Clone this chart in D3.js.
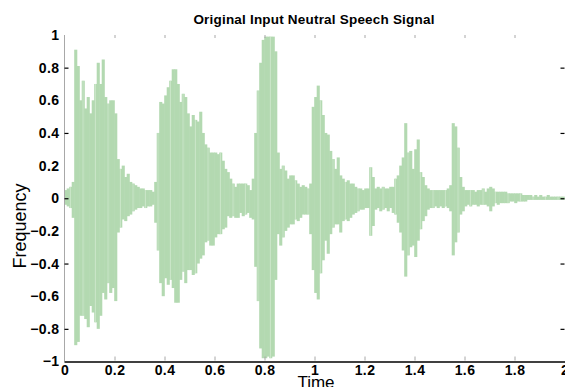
<!DOCTYPE html>
<html lang="en">
<head>
    <meta charset="UTF-8">
    <title>Original Input Neutral Speech Signal</title>
    <script src="https://d3js.org/d3.v7.min.js"></script>
    <style>
        body { margin: 0; background: #fff; }
        svg { display: block; }
        .tick-label text {
            font-family: 'Liberation Sans', Arial, sans-serif;
            font-size: 14px;
            font-weight: bold;
            letter-spacing: 0.4px;
            fill: #000;
        }
    </style>
</head>
<body>
    <svg id="chart" width="565" height="387"></svg>

    <script>
        // sampling step of the envelope (seconds)
        const dt = 0.01;

        // upper envelope of the waveform, one value per 10 ms column (0 .. 1.99 s)
        const upper = [
            0.05, 0.06, 0.07, 0.10, 0.91, 0.81, 0.60, 0.72, 0.55, 0.62,
            0.52, 0.60, 0.70, 0.83, 0.70, 0.85, 0.62, 0.58, 0.60, 0.60,
            0.52, 0.24, 0.18, 0.20, 0.13, 0.15, 0.10, 0.09, 0.08, 0.07,
            0.06, 0.06, 0.05, 0.05, 0.05, 0.04, 0.10, 0.40, 0.59, 0.58,
            0.63, 0.68, 0.72, 0.79, 0.79, 0.70, 0.59, 0.64, 0.62, 0.52,
            0.44, 0.51, 0.48, 0.47, 0.53, 0.40, 0.33, 0.31, 0.28, 0.28,
            0.28, 0.27, 0.28, 0.23, 0.18, 0.16, 0.12, 0.09, 0.07, 0.09,
            0.09, 0.09, 0.09, 0.08, 0.05, 0.12, 0.40, 0.66, 0.83, 0.97,
            0.99, 0.99, 0.99, 0.99, 0.90, 0.28, 0.18, 0.20, 0.17, 0.12,
            0.14, 0.14, 0.11, 0.09, 0.07, 0.08, 0.07, 0.06, 0.09, 0.56,
            0.62, 0.69, 0.60, 0.51, 0.40, 0.39, 0.29, 0.24, 0.18, 0.25,
            0.14, 0.12, 0.10, 0.11, 0.09, 0.09, 0.07, 0.06, 0.06, 0.05,
            0.06, 0.06, 0.19, 0.13, 0.06, 0.07, 0.06, 0.07, 0.06, 0.06,
            0.07, 0.07, 0.12, 0.14, 0.20, 0.25, 0.46, 0.28, 0.29, 0.18,
            0.30, 0.36, 0.16, 0.13, 0.08, 0.06, 0.05, 0.05, 0.05, 0.05,
            0.05, 0.05, 0.05, 0.06, 0.08, 0.46, 0.44, 0.31, 0.13, 0.07,
            0.05, 0.05, 0.05, 0.05, 0.04, 0.05, 0.05, 0.06, 0.04, 0.06,
            0.07, 0.06, 0.04, 0.04, 0.04, 0.04, 0.04, 0.03, 0.03, 0.03,
            0.03, 0.03, 0.03, 0.02, 0.02, 0.02, 0.02, 0.01, 0.02, 0.01,
            0.02, 0.01, 0.01, 0.02, 0.01, 0.01, 0.01, 0.01, 0.01, 0.01
        ];

        // lower envelope, same columns
        const lower = [
            -0.04, -0.05, -0.06, -0.12, -0.90, -0.88, -0.72, -0.72, -0.74, -0.79,
            -0.66, -0.70, -0.76, -0.80, -0.72, -0.58, -0.62, -0.52, -0.58, -0.55,
            -0.63, -0.21, -0.18, -0.13, -0.14, -0.11, -0.10, -0.08, -0.07, -0.06,
            -0.06, -0.05, -0.06, -0.05, -0.05, -0.04, -0.15, -0.32, -0.52, -0.60,
            -0.49, -0.53, -0.50, -0.55, -0.64, -0.64, -0.50, -0.45, -0.52, -0.44,
            -0.44, -0.47, -0.46, -0.40, -0.37, -0.35, -0.27, -0.26, -0.29, -0.29,
            -0.24, -0.22, -0.22, -0.19, -0.18, -0.11, -0.12, -0.11, -0.12, -0.12,
            -0.09, -0.11, -0.10, -0.09, -0.12, -0.13, -0.42, -0.63, -0.92, -0.98,
            -0.98, -0.97, -0.98, -0.97, -0.50, -0.22, -0.29, -0.24, -0.20, -0.18,
            -0.16, -0.16, -0.13, -0.14, -0.12, -0.10, -0.10, -0.10, -0.22, -0.44,
            -0.58, -0.62, -0.46, -0.38, -0.26, -0.34, -0.22, -0.18, -0.16, -0.16,
            -0.21, -0.14, -0.13, -0.14, -0.12, -0.10, -0.09, -0.08, -0.07, -0.07,
            -0.06, -0.06, -0.23, -0.17, -0.07, -0.06, -0.08, -0.07, -0.06, -0.08,
            -0.06, -0.09, -0.10, -0.15, -0.21, -0.32, -0.48, -0.35, -0.30, -0.29,
            -0.36, -0.26, -0.19, -0.14, -0.11, -0.07, -0.06, -0.06, -0.05, -0.06,
            -0.05, -0.06, -0.05, -0.06, -0.08, -0.35, -0.27, -0.21, -0.10, -0.08,
            -0.05, -0.04, -0.05, -0.04, -0.04, -0.05, -0.04, -0.04, -0.04, -0.05,
            -0.08, -0.05, -0.03, -0.04, -0.03, -0.03, -0.03, -0.03, -0.02, -0.02,
            -0.03, -0.02, -0.02, -0.02, -0.02, -0.01, -0.01, -0.01, -0.01, -0.01,
            -0.01, -0.01, -0.01, -0.01, -0.01, -0.01, -0.01, -0.01, -0.01, -0.01
        ];

        const xTickValues = [0, 0.2, 0.4, 0.6, 0.8, 1, 1.2, 1.4, 1.6, 1.8, 2];
        const yTickValues = [-1, -0.8, -0.6, -0.4, -0.2, 0, 0.2, 0.4, 0.6, 0.8, 1];
        const yMarkValues = [-0.8, -0.4, 0, 0.4, 0.8];

        const svg = d3.select("#chart");
        const x = d3.scaleLinear().domain([0, 2]).range([64.5, 564.5]);
        const y = d3.scaleLinear().domain([-1, 1]).range([361.5, 35]);

        const samples = upper.map((u, i) => ({ t: i * dt, hi: u, lo: lower[i] }));
        const colW = x(dt) - x(0);

        // waveform columns (slightly overlapped so no seams show)
        svg.append("g").selectAll("rect")
            .data(samples)
            .join("rect")
            .attr("x", d => x(d.t) - 0.3)
            .attr("width", colW + 0.6)
            .attr("y", d => y(d.hi))
            .attr("height", d => y(d.lo) - y(d.hi))
            .attr("fill", "#b3d9b1");

        // a few lighter stripes
        svg.append("g").selectAll("line")
            .data(samples.filter((d, i) => i % 5 === 2))
            .join("line")
            .attr("x1", d => x(d.t) + 1)
            .attr("x2", d => x(d.t) + 1)
            .attr("y1", d => y(d.hi))
            .attr("y2", d => y(d.lo))
            .attr("stroke", "#d3e9d1")
            .attr("stroke-width", 0.7);

        // left axis line (grey)
        svg.append("line")
            .attr("x1", x(0)).attr("x2", x(0))
            .attr("y1", y(1)).attr("y2", y(-1))
            .attr("stroke", "#a8a8a8").attr("stroke-width", 1);

        // top grey ticks
        svg.append("g")
            .attr("transform", `translate(0,${y(1)})`)
            .call(d3.axisBottom(x).tickValues(xTickValues.slice(1, -1)).tickSize(3).tickFormat(""))
            .call(g => g.select(".domain").remove())
            .call(g => g.selectAll("line").attr("stroke", "#a8a8a8"));

        // bottom grey ticks
        svg.append("g")
            .attr("transform", `translate(0,${y(-1) - 1})`)
            .call(d3.axisTop(x).tickValues(xTickValues.slice(1, -1)).tickSize(4).tickFormat(""))
            .call(g => g.select(".domain").remove())
            .call(g => g.selectAll("line").attr("stroke", "#a8a8a8"));

        // bottom axis line
        svg.append("line")
            .attr("x1", x(0)).attr("x2", 565)
            .attr("y1", y(-1) + 0.5).attr("y2", y(-1) + 0.5)
            .attr("stroke", "#000").attr("stroke-width", 1.6);

        // inner black ticks on left and right
        svg.append("g")
            .attr("transform", `translate(${x(0)},0)`)
            .call(d3.axisRight(y).tickValues(yMarkValues).tickSize(4).tickFormat(""))
            .call(g => g.select(".domain").remove())
            .call(g => g.selectAll("line").attr("stroke", "#000").attr("stroke-width", 1.2));

        svg.append("g")
            .attr("transform", `translate(${x(2)},0)`)
            .call(d3.axisLeft(y).tickValues(yMarkValues).tickSize(4).tickFormat(""))
            .call(g => g.select(".domain").remove())
            .call(g => g.selectAll("line").attr("stroke", "#000").attr("stroke-width", 1.2));

        // tick labels
        svg.append("g")
            .attr("class", "tick-label")
            .attr("transform", `translate(${x(0)},0)`)
            .call(d3.axisLeft(y).tickValues(yTickValues).tickSize(0).tickPadding(5).tickFormat(d3.format("~g")))
            .call(g => g.select(".domain").remove());

        svg.append("g")
            .attr("class", "tick-label")
            .attr("transform", `translate(0,${y(-1)})`)
            .call(d3.axisBottom(x).tickValues(xTickValues).tickSize(0).tickPadding(4).tickFormat(d3.format("~g")))
            .call(g => g.select(".domain").remove());

        // title
        svg.append("text")
            .attr("x", 314)
            .attr("y", 24)
            .attr("text-anchor", "middle")
            .style("font-family", "'Liberation Sans', Arial, sans-serif")
            .style("font-size", "13.5px")
            .style("font-weight", "bold")
            .style("letter-spacing", "0.2px")
            .text("Original Input Neutral Speech Signal");

        // axis titles
        svg.append("text")
            .attr("x", 316)
            .attr("y", 388)
            .attr("text-anchor", "middle")
            .style("font-family", "'Liberation Sans', Arial, sans-serif")
            .style("font-size", "17px")
            .text("Time");

        svg.append("text")
            .attr("transform", "translate(26,226) rotate(-90)")
            .attr("text-anchor", "middle")
            .style("font-family", "'Liberation Sans', Arial, sans-serif")
            .style("font-size", "18px")
            .text("Frequency");
    </script>
</body>
</html>
